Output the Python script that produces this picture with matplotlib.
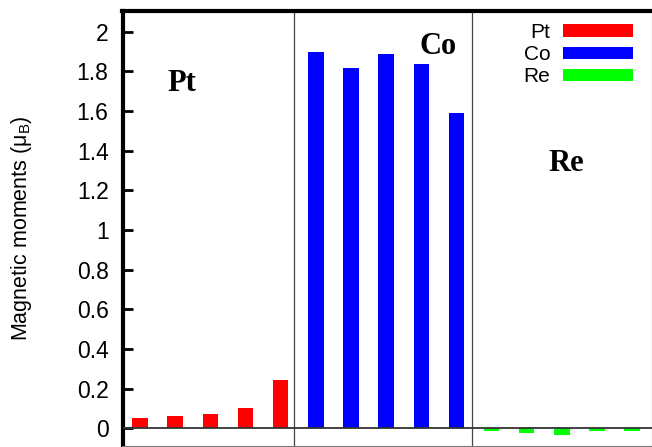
import matplotlib
matplotlib.use('Agg')
import matplotlib.pyplot as plt
import numpy as np

# magnetic moments per site (mu_B)
pt_moments = [0.050, 0.062, 0.070, 0.104, 0.245]
co_moments = [1.896, 1.818, 1.886, 1.836, 1.590]
re_moments = [-0.012, -0.022, -0.032, -0.014, -0.014]
elements = ['Pt', 'Co', 'Re']
colors = ['#ff0000', '#0000ff', '#00ff00']
yticks = [0, 0.2, 0.4, 0.6, 0.8, 1, 1.2, 1.4, 1.6, 1.8, 2]

plt.rcParams['font.family'] = ['Liberation Sans', 'DejaVu Sans']

fig = plt.figure(figsize=(6.52, 4.47), dpi=100)
ax = fig.add_axes([122.5 / 652, 1 / 447, 529 / 652, 435 / 447])

groups = [pt_moments, co_moments, re_moments]
start = 0
for name, vals, col in zip(elements, groups, colors):
    x = np.arange(start, start + len(vals))
    ax.bar(x, vals, width=0.44, color=col, label=name, zorder=2)
    start += len(vals)

ax.axhline(0, color='#333333', lw=1.3, zorder=3)
for xd in [4.39, 9.44]:
    ax.axvline(xd, color='#444444', lw=0.9, zorder=1)

ax.set_xlim(-0.5, 14.55)
ax.set_ylim(-0.09, 2.105)
ax.set_xticks([])
ax.set_yticks(yticks)
ax.set_yticklabels(['%g' % t for t in yticks])
ax.tick_params(axis='y', direction='in', length=7, width=2, labelsize=16.5, pad=10)

for side in ['left', 'top']:
    ax.spines[side].set_linewidth(3)
for side in ['right', 'bottom']:
    ax.spines[side].set_linewidth(0.8)
    ax.spines[side].set_color('#777777')

ax.set_ylabel('Magnetic moments (μ$_\\mathregular{B}$)', fontsize=15.5)
ax.yaxis.set_label_coords(-0.168, 0.5)

serif = dict(family=['Liberation Serif', 'DejaVu Serif'], fontweight='bold',
             fontsize=22, ha='center', va='baseline')
ax.text(1.18, 1.70, 'Pt', **serif)
ax.text(8.47, 1.89, 'Co', **serif)
ax.text(12.12, 1.30, 'Re', **serif)

ax.legend(loc='upper right', bbox_to_anchor=(0.965, 0.972), frameon=False,
          markerfirst=False, fontsize=15, handlelength=3.37, handleheight=0.56,
          labelspacing=0.15, borderpad=0, borderaxespad=0, handletextpad=0.6)

fig.savefig('out.png', dpi=100)
